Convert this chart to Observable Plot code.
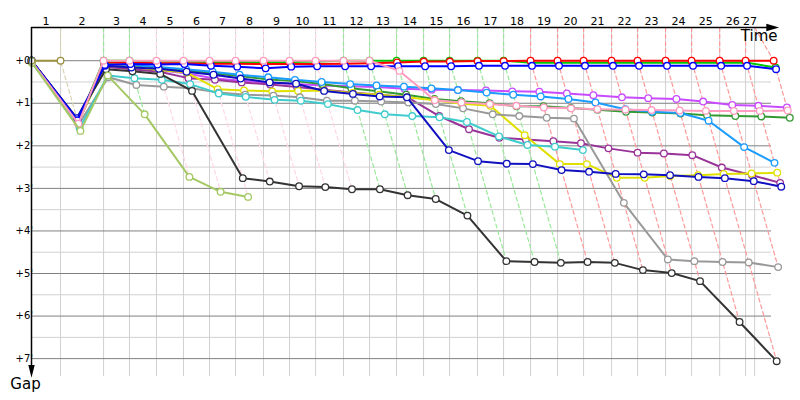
<!DOCTYPE html>
<html><head><meta charset="utf-8">
<script src="https://cdn.jsdelivr.net/npm/d3@7"></script>
<script src="https://cdn.jsdelivr.net/npm/@observablehq/plot@0.6"></script>
<style>body{margin:0;background:#fff} svg{display:block}</style>
</head><body><div id="chart"></div>
<script>
// Leader's cumulative time (minutes) at the end of each lap (lap 0 = start)
const lapTimes = [0, 2.41, 5.98, 8.13, 10.37, 12.61, 14.77, 16.93, 19.25, 21.41, 23.57, 25.89, 28.05, 30.29, 32.53, 34.69, 37.01, 39.17, 41.41, 43.65, 45.81, 48.13, 50.29, 52.61, 54.77, 57.10, 59.25, 61.58];
const timeLimit = 60;
const lapLabels = ["1","2","3","4","5","6","7","8","9","10","11","12","13","14","15","16","17","18","19","20","21","22","23","24","25","26","27"];
const lapLeader = [null, "olive", "green", "green", "pink", "pink", "pink", "pink", "pink", "pink", "pink", "green", "green", "green", "green", "green", "green", "green", "red", "red", "red", "red", "red", "red", "red", "red", "red", "red"];
const gapTicks = [0, 1, 2, 3, 4, 5, 6, 7];
const gapMinorTicks = [0.5, 1.5, 2.5, 3.5, 4.5, 5.5, 6.5];

// Series names (draw order, first = bottom) and colours
const seriesNames = ["green", "red", "violet", "purple", "green2", "dodger", "yellow", "grey", "turquoise", "black", "navy", "blue", "pink", "yellowgreen", "olive"];
const seriesColors = ["#00c800", "#ff0000", "#c84bff", "#993399", "#339933", "#1a9cff", "#e0e000", "#999999", "#40cccc", "#333333", "#1010c0", "#0000ff", "#ff9cc0", "#a4c864", "#9a9040"];

// Gap to the leader (minutes) at each completed lap, from lap 0
const red = [0, 1.42, 0.05, 0.05, 0.06, 0.06, 0.07, 0.07, 0.08, 0.08, 0.08, 0.07, 0.06, 0.04, 0.02, 0.02, 0.01, 0.01, 0, 0, 0, 0, 0, 0, 0, 0, 0, 0];
const green = [0.03, 1.45, 0, 0, 0.02, 0.02, 0.03, 0.03, 0.03, 0.03, 0.02, 0, 0, 0, 0, 0, 0, 0, 0.05, 0.05, 0.05, 0.05, 0.05, 0.05, 0.05, 0.05, 0.04, 0.16];
const blue = [0, 1.40, 0.10, 0.08, 0.09, 0.08, 0.12, 0.14, 0.18, 0.14, 0.13, 0.13, 0.13, 0.13, 0.13, 0.13, 0.12, 0.12, 0.12, 0.12, 0.12, 0.12, 0.12, 0.12, 0.12, 0.12, 0.12, 0.20];
const pink = [0.02, 1.48, 0, 0, 0, 0, 0, 0, 0, 0, 0, 0, 0, 0.24, 0.93, 0.98, 1.02, 1.06, 1.10, 1.12, 1.14, 1.15, 1.16, 1.17, 1.18, 1.18, 1.18, 1.17];
const dodger = [0, 1.44, 0.12, 0.10, 0.15, 0.20, 0.26, 0.33, 0.39, 0.45, 0.50, 0.55, 0.58, 0.61, 0.65, 0.69, 0.75, 0.80, 0.84, 0.90, 0.98, 1.14, 1.20, 1.23, 1.41, 2.03, 2.40];
const violet = [0, 1.42, 0.14, 0.18, 0.22, 0.30, 0.42, 0.47, 0.52, 0.55, 0.58, 0.60, 0.62, 0.66, 0.68, 0.69, 0.70, 0.72, 0.73, 0.77, 0.81, 0.86, 0.88, 0.90, 0.96, 1.04, 1.06, 1.10];
const green2 = [0.04, 1.46, 0.08, 0.12, 0.16, 0.22, 0.30, 0.36, 0.44, 0.48, 0.55, 0.65, 0.72, 0.80, 0.90, 0.95, 1.00, 1.07, 1.07, 1.11, 1.15, 1.20, 1.22, 1.24, 1.28, 1.30, 1.31, 1.34];
const purple = [0, 1.38, 0.14, 0.20, 0.26, 0.41, 0.45, 0.51, 0.56, 0.62, 0.68, 0.75, 0.80, 0.85, 1.30, 1.61, 1.81, 1.85, 1.89, 1.94, 2.06, 2.16, 2.18, 2.22, 2.51, 2.69, 2.87];
const navy = [0, 1.35, 0.12, 0.16, 0.19, 0.26, 0.33, 0.42, 0.51, 0.54, 0.71, 0.78, 0.84, 0.86, 2.10, 2.36, 2.42, 2.43, 2.57, 2.61, 2.66, 2.67, 2.69, 2.73, 2.76, 2.83, 2.96];
const yellow = [0, 1.45, 0.12, 0.15, 0.22, 0.28, 0.67, 0.70, 0.72, 0.71, 0.70, 0.76, 0.80, 0.86, 0.93, 1.01, 1.06, 1.75, 2.43, 2.43, 2.75, 2.75, 2.71, 2.69, 2.66, 2.65, 2.63];
const grey = [0, 1.50, 0.39, 0.57, 0.61, 0.65, 0.75, 0.80, 0.82, 0.86, 0.94, 0.94, 0.96, 0.98, 1.02, 1.12, 1.26, 1.30, 1.34, 1.36, 3.34, 4.67, 4.71, 4.73, 4.74, 4.85];
const turquoise = [0, 1.58, 0.35, 0.41, 0.45, 0.55, 0.77, 0.85, 0.92, 0.94, 1.02, 1.16, 1.26, 1.30, 1.33, 1.44, 1.78, 1.98, 2.02, 2.10];
const black = [0, 1.36, 0.20, 0.25, 0.31, 0.71, 2.76, 2.84, 2.95, 2.97, 3.02, 3.02, 3.16, 3.25, 3.64, 4.71, 4.73, 4.75, 4.73, 4.75, 4.92, 4.99, 5.18, 6.14, 7.06];
const yellowgreen = [0.05, 1.65, 0.35, 1.26, 2.73, 3.08, 3.20];
const olive = [0, 0];

const gapsByName = {red, green, blue, pink, dodger, violet, green2, purple, navy, yellow, grey, turquoise, black, yellowgreen, olive};
const colorOf = Object.fromEntries(seriesNames.map((n, i) => [n, seriesColors[i]]));

// Scale settings
const xDomain = [0, 61.4];
const yDomain = [-0.78, 7.42];

// Points: x = leader time at that lap + gap
const rows = [];
seriesNames.forEach(name => {
  gapsByName[name].forEach((g, lap) => rows.push({name, color: colorOf[name], lap, gap: g, time: lapTimes[lap] + g}));
});

// Lap lines: from the top axis through every driver's point of that lap
const lapRows = [];
for (let lap = 1; lap < lapTimes.length; lap++) {
  const c = d3.interpolateRgb(colorOf[lapLeader[lap]], "#ffffff")(0.6);
  lapRows.push({lap, time: Math.min(lapTimes[lap], timeLimit), gap: yDomain[0], color: c});
  rows.filter(r => r.lap === lap).sort((a, b) => a.gap - b.gap)
    .forEach(r => lapRows.push({lap, time: r.time, gap: r.gap, color: c}));
}

const gridTimes = lapTimes.slice(1, 27).concat([timeLimit]);
const labelX = lapLabels.map((d, i) => (lapTimes[i] + Math.min(lapTimes[i + 1], timeLimit)) / 2);

const triRight = {draw(ctx, size) { const s = Math.sqrt(size); ctx.moveTo(s * 0.6, 0); ctx.lineTo(-s * 0.6, -s * 0.36); ctx.lineTo(-s * 0.6, s * 0.36); ctx.closePath(); }};
const triDown = {draw(ctx, size) { const s = Math.sqrt(size); ctx.moveTo(0, s * 0.6); ctx.lineTo(-s * 0.3, -s * 0.6); ctx.lineTo(s * 0.3, -s * 0.6); ctx.closePath(); }};

// Each series: its line, then its circles (so later series cover earlier circles)
const seriesMarks = seriesNames.flatMap(name => {
  const data = rows.filter(r => r.name === name);
  return [
    Plot.line(data, {x: "time", y: "gap", stroke: "color", strokeWidth: 2, strokeLinejoin: "round"}),
    Plot.dot(data, {x: "time", y: "gap", r: 3.3, fill: "#ffffff", stroke: "color", strokeWidth: 1.3})
  ];
});

const chart = Plot.plot({
  width: 800, height: 400,
  marginLeft: 31, marginTop: 27, marginRight: 29, marginBottom: 24,
  x: {domain: xDomain, axis: null},
  y: {domain: yDomain, reverse: true, axis: null},
  color: {type: "identity"},
  style: {fontFamily: "'DejaVu Sans', Verdana, sans-serif", background: "#ffffff", color: "#000"},
  marks: [
    Plot.ruleY(gapMinorTicks, {stroke: "#d0d0d0"}),
    Plot.ruleX(gridTimes, {stroke: "#d0d0d0"}),
    Plot.ruleY(gapTicks, {stroke: "#808080"}),
    Plot.line(lapRows, {x: "time", y: "gap", z: "lap", stroke: "color", strokeWidth: 1.2, strokeDasharray: "4,3", curve: "linear"}),
    ...seriesMarks,
    // axes
    Plot.ruleY([yDomain[0]], {x1: 0, x2: 61.3, stroke: "#000", strokeWidth: 1.5}),
    Plot.ruleX([0], {y1: yDomain[0], y2: 7.3, stroke: "#000", strokeWidth: 1.5}),
    Plot.dot([0], {x: () => 61.5, y: () => yDomain[0], symbol: triRight, r: 6, fill: "#000", stroke: null}),
    Plot.dot([0], {x: () => 0, y: () => 7.3, symbol: triDown, r: 6, fill: "#000", stroke: null}),
    Plot.text(lapLabels, {x: (d, i) => labelX[i], text: d => d, frameAnchor: "top", dy: -10, fontSize: 11}),
    Plot.text(gapTicks, {y: d => d, text: d => `+${d}'`, frameAnchor: "left", dx: -16, fontSize: 10}),
    Plot.text(["Time"], {text: d => d, frameAnchor: "top-right", textAnchor: "end", lineAnchor: "top", dx: 6, dy: 3, fontSize: 15}),
    Plot.text(["Gap"], {text: d => d, frameAnchor: "bottom-left", textAnchor: "middle", lineAnchor: "top", dx: -6, dy: 2, fontSize: 15})
  ]
});
document.getElementById("chart").appendChild(chart);
</script>
</body></html>
